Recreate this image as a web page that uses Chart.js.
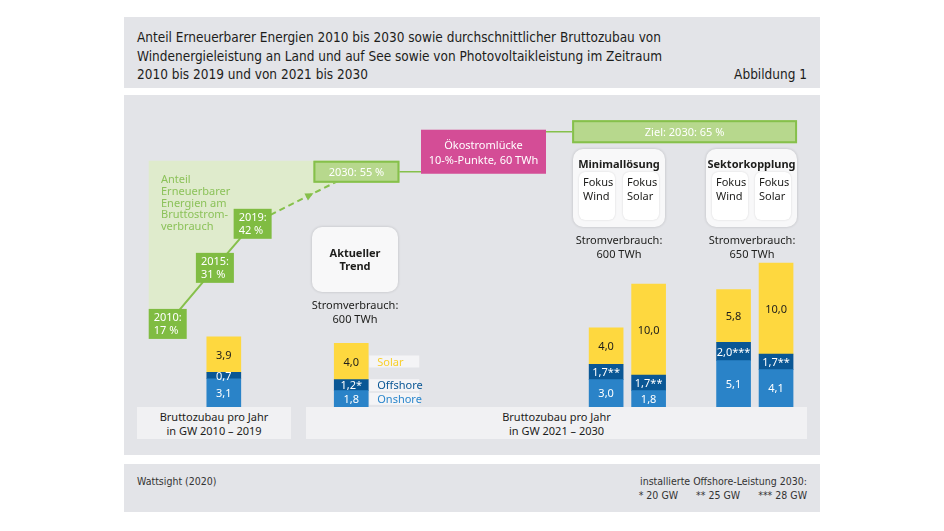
<!DOCTYPE html>
<html lang="de">
<head>
<meta charset="utf-8">
<script src="https://cdn.jsdelivr.net/npm/chart.js@4.4.1/dist/chart.umd.min.js"></script>
<style>
  html, body { margin: 0; padding: 0; background: #fff; }
  #page { position: relative; width: 944px; height: 531px; overflow: hidden; font-family: "Noto Sans", sans-serif; color: #1d1d1b; }
  .panel { position: absolute; left: 124px; width: 696px; background: #e3e4e8; }
  #head { top: 17px; height: 71px; }
  #main { top: 95px; height: 360px; }
  #foot { top: 464px; height: 48px; }
  .narrow { font-family: "DejaVu Sans Condensed", sans-serif; }
  .abs { position: absolute; }
  #chart { position: absolute; left: 0; top: 0; z-index: 1; }
  .over { z-index: 2; }
  .caption { background: #f1f1f3; font-size: 11px; line-height: 14px; text-align: center; padding-top: 3px; box-sizing: border-box; }
  .card { background: #f8f8f9; border-radius: 10px; box-shadow: 0 0 3px rgba(0,0,0,0.18); }
  .card b { display: block; text-align: center; font-size: 11px; }
  .inner { position: absolute; top: 23px; width: 36px; height: 48px; background: #fff; border-radius: 6px; box-shadow: 0 0 2px rgba(0,0,0,0.15); font-size: 11px; line-height: 14px; padding: 3px 0 0 4px; box-sizing: border-box; }
  .use { font-size: 11px; line-height: 14px; text-align: center; }
</style>
</head>
<body>
<div id="page">
  <div class="panel" id="head"></div>
  <div class="panel" id="main"></div>
  <div class="panel" id="foot"></div>

  <div class="abs narrow" style="left:137px; top:28px; font-size:13.5px; line-height:18.5px;">
    Anteil Erneuerbarer Energien 2010 bis 2030 sowie durchschnittlicher Bruttozubau von<br>
    Windenergieleistung an Land und auf See sowie von Photovoltaikleistung im Zeitraum<br>
    2010 bis 2019 und von 2021 bis 2030
  </div>
  <div class="abs narrow" style="right:137px; top:65px; font-size:13.5px; line-height:18.5px;">Abbildung 1</div>

  <div class="abs caption" style="left:137px; top:407px; width:154px; height:32px;">Bruttozubau pro Jahr<br>in GW 2010 – 2019</div>
  <div class="abs caption" style="left:306px; top:407px; width:501px; height:32px;">Bruttozubau pro Jahr<br>in GW 2021 – 2030</div>

  <canvas id="chart" width="944" height="531"></canvas>

  <div class="abs over" style="left:161px; top:173px; font-size:11px; line-height:11.8px; color:#8cc25a;">
    Anteil<br>Erneuerbarer<br>Energien am<br>Bruttostrom-<br>verbrauch
  </div>

  <div class="abs card over" style="left:312px; top:227px; width:86px; height:65px;">
    <b style="margin-top:19px; line-height:13px;">Aktueller<br>Trend</b>
  </div>
  <div class="abs use over" style="left:305px; top:298px; width:100px;">Stromverbrauch:<br>600 TWh</div>

  <div class="abs card over" style="left:573px; top:149px; width:92px; height:78px;">
    <b style="margin-top:7px;">Minimallösung</b>
    <div class="inner" style="left:6px;">Fokus<br>Wind</div>
    <div class="inner" style="left:50px;">Fokus<br>Solar</div>
  </div>
  <div class="abs use over" style="left:569px; top:233px; width:100px;">Stromverbrauch:<br>600 TWh</div>

  <div class="abs card over" style="left:706px; top:149px; width:91px; height:78px;">
    <b style="margin-top:7px;">Sektorkopplung</b>
    <div class="inner" style="left:6px;">Fokus<br>Wind</div>
    <div class="inner" style="left:49px;">Fokus<br>Solar</div>
  </div>
  <div class="abs use over" style="left:702px; top:233px; width:100px;">Stromverbrauch:<br>650 TWh</div>

  <div class="abs narrow" style="left:137px; top:475px; font-size:10.5px; color:#333;">Wattsight (2020)</div>
  <div class="abs narrow" style="right:137px; top:474px; font-size:10.5px; line-height:14px; color:#333; text-align:right;">
    installierte Offshore-Leistung 2030:<br>* 20 GW &nbsp;&nbsp;&nbsp;&nbsp; ** 25 GW &nbsp;&nbsp;&nbsp;&nbsp; *** 28 GW
  </div>
</div>

<script>
// Bruttozubau pro Jahr in GW
const scenarios = ['2010–2019', 'Aktueller Trend', 'Minimallösung Fokus Wind', 'Minimallösung Fokus Solar', 'Sektorkopplung Fokus Wind', 'Sektorkopplung Fokus Solar'];
const onshore = [3.1, 1.8, 3.0, 1.8, 5.1, 4.1];
const offshore = [0.7, 1.2, 1.7, 1.7, 2.0, 1.7];
const solar = [3.9, 4.0, 4.0, 10.0, 5.8, 10.0];
const offshoreNote = ['', '*', '**', '**', '***', '**'];

// Anteil Erneuerbarer Energien am Bruttostromverbrauch (%)
const shareYears = [2010, 2015, 2019, 2030];
const shareValues = [17, 31, 42, 55];
const targetYear = 2030;
const targetValue = 65;
const gapTWh = 60;

// Layout: Kategorie-Slots auf der x-Achse (leere Slots = Abstand)
const slotCount = 16;
const barSlots = [2, 5, 11, 12, 14, 15];

const C = {
  onshore: '#2a83c8',
  offshore: '#0a5795',
  solar: '#fed83f',
  green: '#80bc42',
  greenLine: '#86c04b',
  greenLight: '#dfebcc',
  greenBox: '#b7d88d',
  magenta: '#d44d96'
};

function toSlots(arr) {
  const out = new Array(slotCount).fill(null);
  barSlots.forEach((s, i) => { out[s] = arr[i]; });
  return out;
}
const slotLabels = toSlots(scenarios).map(v => v || '');
const fmt = v => v.toFixed(1).replace('.', ',');

function box(ctx, x, y, w, h, fill, stroke) {
  ctx.fillStyle = fill;
  ctx.fillRect(x, y, w, h);
  if (stroke) {
    ctx.strokeStyle = stroke;
    ctx.lineWidth = 2;
    ctx.strokeRect(x + 1, y + 1, w - 2, h - 2);
  }
}

const BOX30 = { w: 86, h: 22 };

const overlay = {
  id: 'overlay',
  // hellgrüne Fläche über der Anteilslinie
  beforeDatasetsDraw(chart) {
    const ctx = chart.ctx;
    const pts = chart.getDatasetMeta(3).data;
    const last = pts[pts.length - 1];
    const top = last.y - BOX30.h / 2;
    ctx.save();
    ctx.fillStyle = C.greenLight;
    ctx.beginPath();
    ctx.moveTo(pts[0].x - 19, top);
    ctx.lineTo(pts[0].x - 19, pts[0].y);
    pts.forEach(p => ctx.lineTo(p.x, p.y));
    ctx.lineTo(last.x, top);
    ctx.closePath();
    ctx.fill();
    ctx.restore();
  },
  afterDatasetsDraw(chart) {
    const ctx = chart.ctx;
    ctx.save();
    ctx.font = '11px "Noto Sans", sans-serif';
    ctx.textBaseline = 'middle';

    // Werte in den Balken
    const metas = [0, 1, 2].map(i => chart.getDatasetMeta(i));
    const values = [onshore, offshore, solar];
    barSlots.forEach((s, i) => {
      metas.forEach((m, k) => {
        const el = m.data[s];
        const cy = (el.y + el.base) / 2;
        let txt = fmt(values[k][i]);
        if (k === 1) txt += offshoreNote[i];
        ctx.fillStyle = k === 2 ? '#1d1d1b' : '#fff';
        ctx.textAlign = 'center';
        ctx.fillText(txt, el.x, cy + 1);
      });
    });

    // Legende neben "Aktueller Trend"
    const legendColors = ['#2a86cc', '#0a5795', '#f8cf2c'];
    metas.forEach((m, k) => {
      const el = m.data[barSlots[1]];
      const cy = (el.y + el.base) / 2;
      const lx = el.x + el.width / 2 + 1;
      ctx.fillStyle = '#f4f4f6';
      ctx.fillRect(lx, cy - 6, 50, 12);
      ctx.fillStyle = legendColors[k];
      ctx.textAlign = 'left';
      ctx.fillText(chart.data.datasets[k].label, lx + 8, cy + 1);
    });

    // Anteil-Kästen
    const line = chart.getDatasetMeta(3).data;
    for (let i = 0; i < 3; i++) {
      const p = line[i];
      box(ctx, p.x - 19, p.y - 15, 38, 30, C.green);
      ctx.fillStyle = '#fff';
      ctx.textAlign = 'left';
      ctx.fillText(shareYears[i] + ':', p.x - 14, p.y - 6);
      ctx.fillText(shareValues[i] + ' %', p.x - 14, p.y + 7);
    }

    // Pfeilspitze am 2030-Kasten
    const p2 = line[2], p3 = line[3];
    const bw = BOX30.w, bh = BOX30.h;
    const bx = p3.x - bw / 2, by = p3.y - bh / 2;
    const dx = p3.x - p2.x, dy = p3.y - p2.y;
    let t = Math.min((bx - p2.x) / dx, (by + bh - p2.y) / dy);
    t = Math.max(t, 0);
    const ax = p2.x + dx * t, ay = p2.y + dy * t;
    const ang = Math.atan2(dy, dx);
    ctx.fillStyle = C.greenLine;
    ctx.beginPath();
    ctx.moveTo(ax, ay);
    ctx.lineTo(ax - 9 * Math.cos(ang - 0.45), ay - 9 * Math.sin(ang - 0.45));
    ctx.lineTo(ax - 9 * Math.cos(ang + 0.45), ay - 9 * Math.sin(ang + 0.45));
    ctx.closePath();
    ctx.fill();

    // 2030-Kasten
    box(ctx, bx, by, bw, bh, C.greenBox, C.greenLine);
    ctx.fillStyle = '#fff';
    ctx.textAlign = 'center';
    ctx.fillText(shareYears[3] + ': ' + shareValues[3] + ' %', p3.x, p3.y + 1);

    // Ökostromlücke und Ziel
    const yPct = chart.scales.yPct;
    const yT = yPct.getPixelForValue(targetValue);
    const y55 = yPct.getPixelForValue(shareValues[3]);
    const gapL = 421, gapR = 546;
    const barsMeta = chart.getDatasetMeta(0).data;
    const zl = barsMeta[barSlots[2]].x - 34;
    const zr = barsMeta[barSlots[5]].x + 21;

    ctx.strokeStyle = C.greenLine;
    ctx.lineWidth = 1.5;
    ctx.beginPath();
    ctx.moveTo(bx + bw, y55); ctx.lineTo(gapL, y55);
    ctx.moveTo(gapR, yT); ctx.lineTo(zl, yT);
    ctx.stroke();

    box(ctx, gapL, yT - 2, gapR - gapL, y55 - yT + 4, C.magenta);
    ctx.fillStyle = '#fff';
    const gm = (yT + y55) / 2;
    ctx.fillText('Ökostromlücke', (gapL + gapR) / 2, gm - 6);
    ctx.fillText((targetValue - shareValues[3]) + '-%-Punkte, ' + gapTWh + ' TWh', (gapL + gapR) / 2, gm + 9);

    box(ctx, zl, yT - 11.5, zr - zl, 23, C.greenBox, C.greenLine);
    ctx.fillStyle = '#fff';
    ctx.fillText('Ziel: ' + targetYear + ': ' + targetValue + ' %', (zl + zr) / 2, yT + 1);

    ctx.restore();
  }
};

const barStyle = { grouped: false, maxBarThickness: 34, barPercentage: 1, categoryPercentage: 1 };

new Chart(document.getElementById('chart'), {
  type: 'bar',
  data: {
    labels: slotLabels,
    datasets: [
      { label: 'Onshore', data: toSlots(onshore), backgroundColor: C.onshore, ...barStyle },
      { label: 'Offshore', data: toSlots(offshore), backgroundColor: C.offshore, ...barStyle },
      { label: 'Solar', data: toSlots(solar), backgroundColor: C.solar, ...barStyle },
      {
        type: 'line',
        label: 'Anteil EE',
        xAxisID: 'xYear',
        yAxisID: 'yPct',
        data: shareYears.map((yr, i) => ({ x: yr, y: shareValues[i] })),
        borderColor: C.greenLine,
        borderWidth: 2,
        pointRadius: 0,
        tension: 0,
        clip: false,
        fill: false,
        segment: {
          borderDash: ctx => ctx.p1DataIndex === 3 ? [6, 4] : undefined
        }
      }
    ]
  },
  options: {
    responsive: false,
    animation: false,
    devicePixelRatio: 1,
    layout: { padding: { left: 117.6, right: 146.7, top: 100, bottom: 124 } },
    scales: {
      x: { type: 'category', stacked: true, display: false, offset: true },
      y: { stacked: true, display: false, min: 0, max: 33.72 },
      xYear: { type: 'linear', display: false, min: 2004.69, max: 2076.72, offset: false },
      yPct: { type: 'linear', display: false, min: -3.75, max: 72.92 }
    },
    plugins: {
      legend: { display: false },
      tooltip: { enabled: false }
    }
  },
  plugins: [overlay]
});
</script>
</body>
</html>
